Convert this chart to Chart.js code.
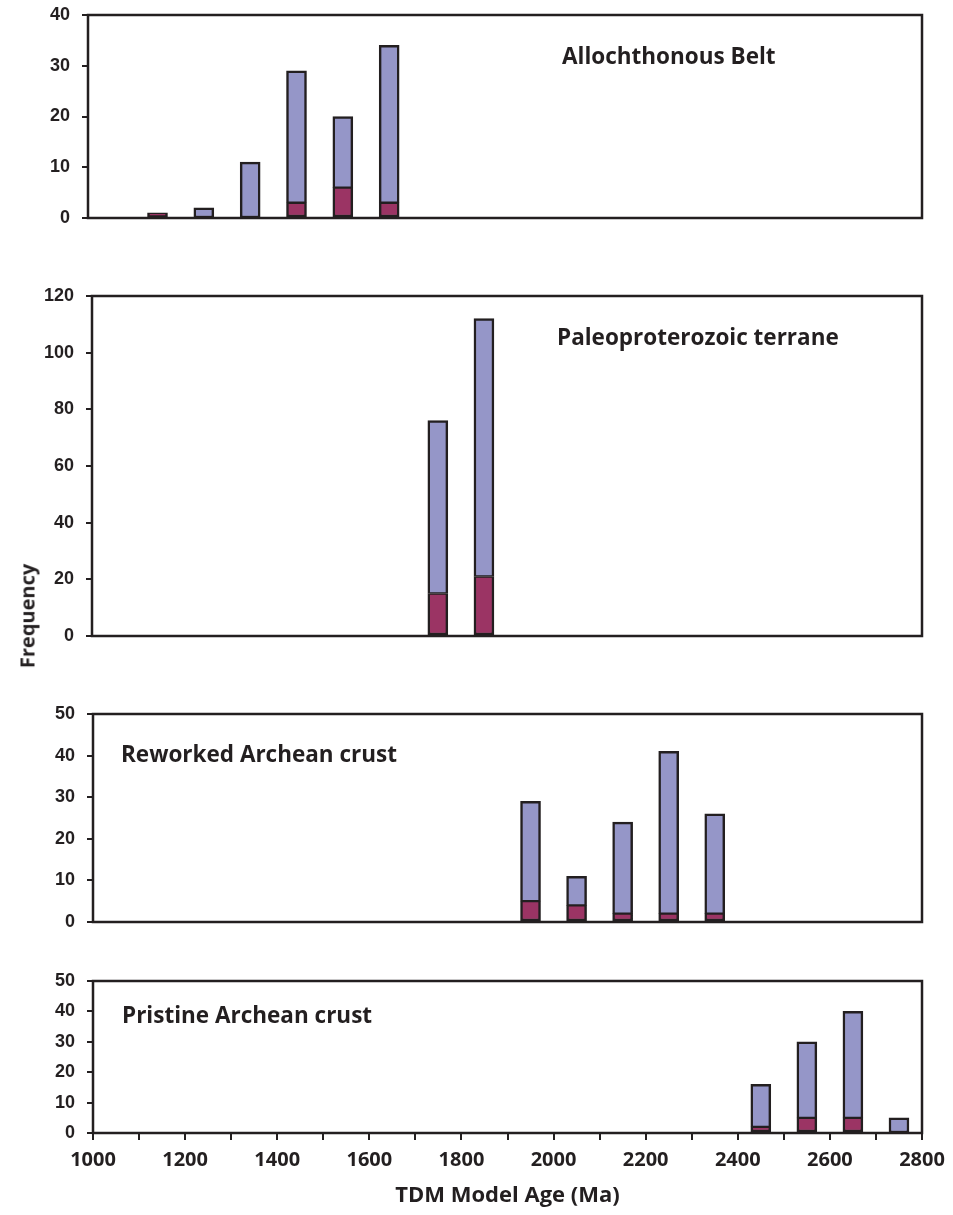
<!DOCTYPE html>
<html>
<head>
<meta charset="utf-8">
<script src="https://cdn.jsdelivr.net/npm/chart.js@4.4.1/dist/chart.umd.min.js"></script>
<style>
  html, body { margin: 0; padding: 0; background: #fff; }
  #fig { position: relative; width: 953px; height: 1215px; }
  #fig canvas { position: absolute; left: 0; }
  #ylab {
    position: absolute; left: 27px; top: 616px;
    transform: translate(-50%, -50%) rotate(-90deg);
    font: bold 20px 'Open Sans'; color: #231f20; white-space: nowrap;
  }
</style>
</head>
<body>
<div id="fig">
  <canvas id="p1" width="953" height="232" style="top:0px"></canvas>
  <canvas id="p2" width="953" height="370" style="top:280px"></canvas>
  <canvas id="p3" width="953" height="236" style="top:700px"></canvas>
  <canvas id="p4" width="953" height="249" style="top:966px"></canvas>
  <div id="ylab">Frequency</div>
</div>
<script>
// bin centres (Ma), 100 Ma bins from 1100 to 2800
var bins = [1150, 1250, 1350, 1450, 1550, 1650, 1750, 1850, 1950, 2050, 2150, 2250, 2350, 2450, 2550, 2650, 2750];

// lower (dark) and upper (light) part of each stacked bar
var alloDark  = [1, 0, 0, 3, 6, 3, 0, 0, 0, 0, 0, 0, 0, 0, 0, 0, 0];
var alloLight = [0, 2, 11, 26, 14, 31, 0, 0, 0, 0, 0, 0, 0, 0, 0, 0, 0];

var paleoDark  = [0, 0, 0, 0, 0, 0, 15, 21, 0, 0, 0, 0, 0, 0, 0, 0, 0];
var paleoLight = [0, 0, 0, 0, 0, 0, 61, 91, 0, 0, 0, 0, 0, 0, 0, 0, 0];

var reworkDark  = [0, 0, 0, 0, 0, 0, 0, 0, 5, 4, 2, 2, 2, 0, 0, 0, 0];
var reworkLight = [0, 0, 0, 0, 0, 0, 0, 0, 24, 7, 22, 39, 24, 0, 0, 0, 0];

var pristDark  = [0, 0, 0, 0, 0, 0, 0, 0, 0, 0, 0, 0, 0, 2, 5, 5, 0];
var pristLight = [0, 0, 0, 0, 0, 0, 0, 0, 0, 0, 0, 0, 0, 14, 25, 35, 5];

var ink = '#231f20';
var dark = '#9b3464';
var light = '#9596c8';

const frame = {
    id: 'frame',
    afterDatasetsDraw(chart) {
        const { ctx, chartArea: a } = chart;
        ctx.save();
        ctx.strokeStyle = ink;
        ctx.lineWidth = 2.5;
        ctx.strokeRect(a.left, a.top, a.right - a.left, a.bottom - a.top);
        ctx.restore();
    }
};

const panelLabel = {
    id: 'panelLabel',
    afterDraw(chart, args, opts) {
        if (!opts.text) return;
        const { ctx, chartArea } = chart;
        ctx.save();
        ctx.font = 'bold 22.5px "Open Sans"';
        ctx.fillStyle = ink;
        ctx.textBaseline = 'middle';
        ctx.fillText(opts.text, chartArea.left + opts.dx, chartArea.top + opts.dy);
        ctx.restore();
    }
};

function pts(vals) {
    return bins.map((b, i) => ({ x: b, y: vals[i] }));
}

function makePanel(id, darkVals, lightVals, yMax, yStep, left, padTop, padBottom, label, showX) {
    return new Chart(document.getElementById(id), {
        type: 'bar',
        data: {
            datasets: [{
                data: pts(darkVals),
                backgroundColor: dark,
                borderColor: ink,
                borderWidth: { top: 1.5, left: 2.5, right: 2.5, bottom: 2.5 },
                borderSkipped: false,
                barThickness: 20
            }, {
                data: pts(lightVals),
                backgroundColor: light,
                borderColor: ink,
                borderWidth: { top: 2.5, left: 2.5, right: 2.5, bottom: 1.5 },
                borderSkipped: false,
                barThickness: 20
            }]
        },
        options: {
            responsive: false,
            animation: false,
            layout: { padding: { top: padTop, bottom: padBottom, left: 0, right: 31 } },
            plugins: {
                legend: { display: false },
                tooltip: { enabled: false },
                panelLabel: label
            },
            scales: {
                x: {
                    type: 'linear',
                    min: 1000,
                    max: 2800,
                    stacked: true,
                    offset: false,
                    display: showX,
                    afterFit(scale) {
                        if (showX) scale.height = 80;
                        scale.paddingLeft = 0;
                        scale.paddingRight = 0;
                    },
                    border: { display: false },
                    grid: { drawOnChartArea: false, offset: false, tickLength: 7, lineWidth: 2, color: ink },
                    ticks: {
                        stepSize: 100,
                        autoSkip: false,
                        maxRotation: 0,
                        padding: 8,
                        color: ink,
                        font: { family: 'Open Sans', weight: 'bold', size: 20 },
                        callback: v => (v % 200 === 0 ? String(v) : '')
                    },
                    title: {
                        display: true,
                        text: 'TDM Model Age (Ma)',
                        color: ink,
                        font: { family: 'Open Sans', weight: 'bold', size: 22 }
                    }
                },
                y: {
                    min: 0,
                    max: yMax,
                    stacked: true,
                    afterFit(scale) {
                        scale.width = left;
                        scale.paddingTop = 0;
                        scale.paddingBottom = 0;
                    },
                    border: { display: false },
                    grid: { drawOnChartArea: false, tickLength: 6, lineWidth: 2, color: ink },
                    ticks: {
                        stepSize: yStep,
                        autoSkip: false,
                        padding: 12,
                        color: ink,
                        font: { family: 'Liberation Sans', weight: 'bold', size: 18 }
                    }
                }
            }
        },
        plugins: [frame, panelLabel]
    });
}

makePanel('p1', alloDark, alloLight, 40, 10, 88, 15, 14,
    { text: 'Allochthonous Belt', dx: 474, dy: 43 }, false);
makePanel('p2', paleoDark, paleoLight, 120, 20, 92, 16, 14,
    { text: 'Paleoproterozoic terrane', dx: 465, dy: 43 }, false);
makePanel('p3', reworkDark, reworkLight, 50, 10, 93, 14, 14,
    { text: 'Reworked Archean crust', dx: 28, dy: 42 }, false);
makePanel('p4', pristDark, pristLight, 50, 10, 93, 15, 2,
    { text: 'Pristine Archean crust', dx: 29, dy: 36 }, true);
</script>
</body>
</html>
